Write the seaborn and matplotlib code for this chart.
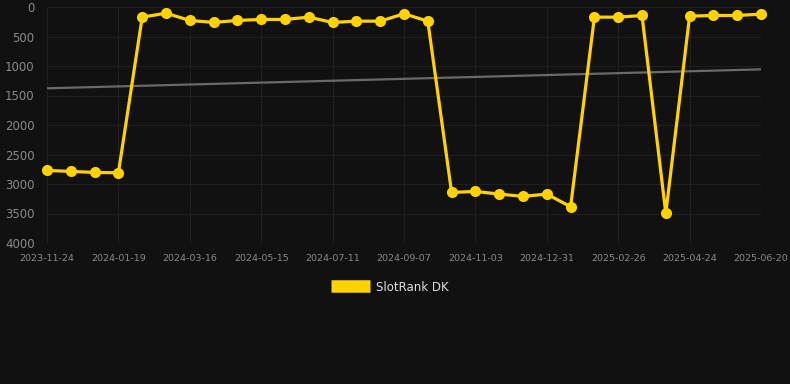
import matplotlib
matplotlib.use("Agg")
import matplotlib.pyplot as plt
import seaborn as sns
import pandas as pd

dates = [
    "2023-11-24", "2023-12-13", "2024-01-01", "2024-01-19", "2024-02-07", "2024-02-26",
    "2024-03-16", "2024-04-05", "2024-04-25", "2024-05-15", "2024-06-03", "2024-06-22",
    "2024-07-11", "2024-07-30", "2024-08-19", "2024-09-07", "2024-09-26", "2024-10-15",
    "2024-11-03", "2024-11-22", "2024-12-12", "2024-12-31", "2025-01-19", "2025-02-07",
    "2025-02-26", "2025-03-17", "2025-04-05", "2025-04-24", "2025-05-13", "2025-06-01",
    "2025-06-20",
]
rank = [
    2770, 2787, 2804, 2810, 172, 105,
    228, 262, 228, 211, 211, 172,
    262, 240, 240, 115, 240, 3143,
    3126, 3171, 3210, 3171, 3385, 172,
    172, 144, 3497, 155, 144, 144,
    121,
]
trend = [1378, 1057]
series_label = "SlotRank DK"

BG = "#111111"
GOLD = "#FFD200"
GRID = "#1f1f1f"
TXT = "#8a8a8a"

sns.set_theme(style="dark")
plt.rcParams["font.family"] = ["DejaVu Sans"]

df = pd.DataFrame({"idx": range(len(dates)), "date": dates, "rank": rank})

fig = plt.figure(figsize=(7.9, 3.84), dpi=100, facecolor=BG)
ax = fig.add_axes([47 / 790, 1 - 243 / 384, (761 - 47) / 790, (243 - 7) / 384])
ax.set_facecolor(BG)

# trend line
ax.plot([0, len(dates) - 1], trend, color="#6a6a6a", lw=1.6, zorder=2)

sns.lineplot(data=df, x="idx", y="rank", ax=ax, color=GOLD, lw=2.3,
             marker="o", markersize=8, markeredgewidth=0, label=series_label,
             zorder=3, clip_on=False)
for ln in ax.lines[1:]:
    ln.set_solid_joinstyle("miter")

ax.set_xlim(0, len(dates) - 1)
ax.set_ylim(4000, 0)
ax.set_yticks([0, 500, 1000, 1500, 2000, 2500, 3000, 3500, 4000])
ax.set_xticks(list(range(0, len(dates), 3)))
ax.set_xticklabels([dates[i] for i in range(0, len(dates), 3)])
ax.set_xlabel("")
ax.set_ylabel("")
ax.grid(True, color=GRID, lw=0.9)
for s in ax.spines.values():
    s.set_visible(False)
ax.tick_params(axis="y", colors=TXT, labelsize=8.5, length=0, pad=9)
ax.tick_params(axis="x", colors=TXT, labelsize=6.8, length=5, width=0.8, pad=3)
for t in ax.xaxis.get_ticklines():
    t.set_color(GRID)

leg = ax.legend(loc="upper center", bbox_to_anchor=(0.48, -0.115), frameon=False,
                fontsize=8.5, handlelength=3.3, handleheight=1.0, handletextpad=0.5)
for h in leg.legend_handles:
    h.set_linewidth(9)
    h.set_marker("")
    h.set_solid_capstyle("butt")
for t in leg.get_texts():
    t.set_color("#dddddd")

fig.savefig("out.png", dpi=100, facecolor=BG)
